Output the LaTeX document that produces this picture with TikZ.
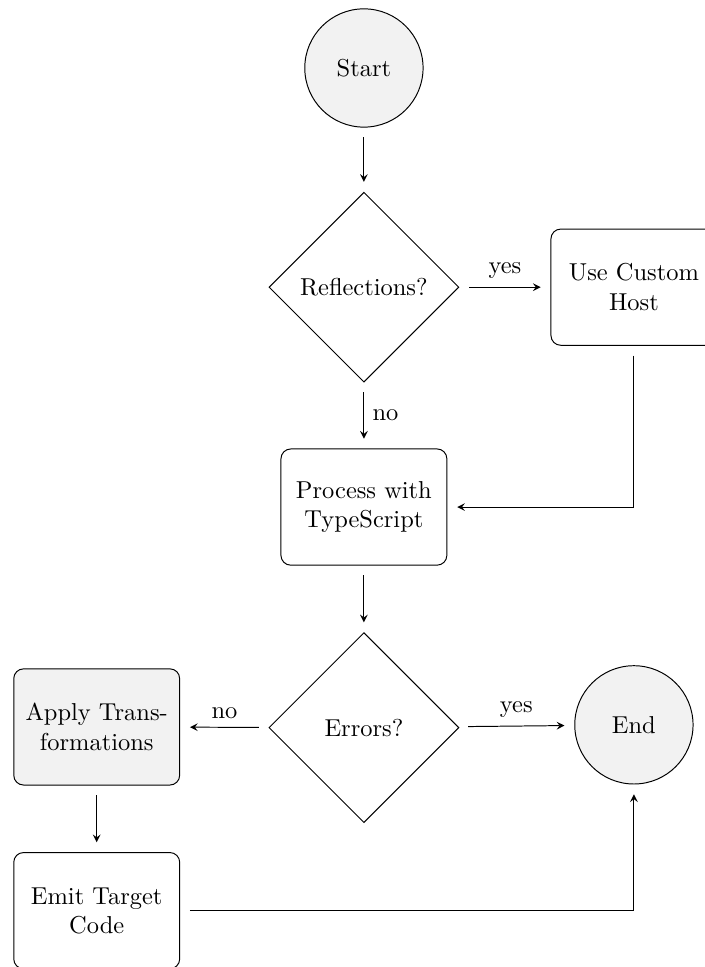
\documentclass[tikz,border=0pt]{standalone}
\usepackage{tikz}
\usetikzlibrary{shapes,arrows,positioning,calc}

\begin{document}
\begin{tikzpicture}[
    term/.style={circle, draw, fill=gray!10, minimum size=1.7cm},
    decision/.style={diamond, draw, aspect=1, inner sep=1pt, minimum size=2.73cm},
    process/.style={rectangle, draw, rounded corners, text width=2.15cm, align=center, minimum height=1.67cm},
    arrow/.style={->, >=stealth, shorten >=4pt, shorten <=4pt}
]
    \clip (-5.23,0.977) rectangle (4.90,-12.92);

    \node[term] (start) at (0,0) {Start};
    \node[decision] (refl) at (0,-3.15) {Reflections?};
    \node[process] (host) at (3.88,-3.15) {Use Custom\\ Host};
    \node[process] (proc) at (0,-6.31) {Process with TypeScript};
    \node[decision] (err) at (0,-9.48) {Errors?};
    \node[process, fill=gray!10] (apply) at (-3.84,-9.47) {Apply Transformations};
    \node[term] (finish) at (3.88,-9.44) {End};
    \node[process] (emit) at (-3.84,-12.11) {Emit Target Code};

    \draw[arrow] (start) -- (refl);
    \draw[arrow] (refl) -- (host) node[midway, above] {yes};
    \draw[arrow] (refl) -- (proc) node[midway, right] {no};
    \draw[arrow] (host) |- (proc);
    \draw[arrow] (proc) -- (err);
    \draw[arrow] (err) -- (apply) node[midway, above] {no};
    \draw[arrow] (err) -- (finish) node[midway, above] {yes};
    \draw[arrow] (apply) -- (emit);
    \draw[arrow] (emit) -| (finish);
\end{tikzpicture}
\end{document}
